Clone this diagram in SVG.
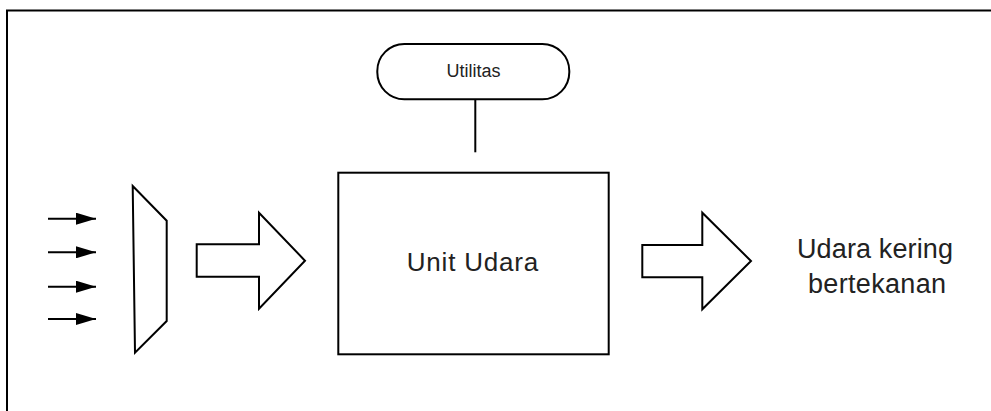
<svg xmlns="http://www.w3.org/2000/svg" width="991" height="411" viewBox="0 0 991 411">
<defs>
<style>
.s{fill:#fff;stroke:#000;stroke-width:2;stroke-linejoin:miter}
.ln{fill:none;stroke:#000;stroke-width:2}
.t{font-family:"Liberation Sans",Arial,sans-serif;fill:#222;text-anchor:middle}
</style>
<marker id="ah" viewBox="0 0 20 12" refX="20" refY="6" markerWidth="20" markerHeight="12" markerUnits="userSpaceOnUse" orient="auto">
<path d="M0,0 L20,6 L0,12 Z" fill="#000"/>
</marker>
</defs>
<rect width="991" height="411" fill="#fff"/>
<g id="frame"><path class="ln" d="M7,411 V10.5 H991"/></g>
<g id="connectors">
<line class="ln" x1="475.3" y1="99" x2="475.3" y2="152.3"/>
<line class="ln" x1="48" y1="218.7" x2="96" y2="218.7" marker-end="url(#ah)"/>
<line class="ln" x1="48" y1="252.3" x2="96" y2="252.3" marker-end="url(#ah)"/>
<line class="ln" x1="48" y1="286.7" x2="96" y2="286.7" marker-end="url(#ah)"/>
<line class="ln" x1="48" y1="319" x2="96" y2="319" marker-end="url(#ah)"/>
</g>
<g id="utilitas">
<rect class="s" x="377.3" y="44" width="192" height="55.3" rx="27" ry="27"/>
<text class="t" x="473.5" y="76.7" font-size="18">Utilitas</text>
</g>
<g id="filter"><polygon class="s" points="132.7,186 166.7,220.7 166.7,321 135,352.7"/></g>
<g id="arrow-in"><polygon class="s" points="196.7,244.3 259,244.3 259,212.7 305,260.7 259,308.7 259,276.7 196.7,276.7"/></g>
<g id="unit-udara">
<rect class="s" x="338.3" y="172.7" width="270.4" height="181.6"/>
<text class="t" x="472.5" y="271" font-size="26" textLength="131.6" lengthAdjust="spacing">Unit Udara</text>
</g>
<g id="arrow-out"><polygon class="s" points="642.3,245 702.3,245 702.3,212.7 751,261 702.3,309.3 702.3,277.3 642.3,277.3"/></g>
<g id="output">
<text class="t" x="875" y="258.3" font-size="27" textLength="156" lengthAdjust="spacing">Udara kering</text>
<text class="t" x="877" y="293.3" font-size="27" textLength="138" lengthAdjust="spacing">bertekanan</text>
</g>
</svg>
